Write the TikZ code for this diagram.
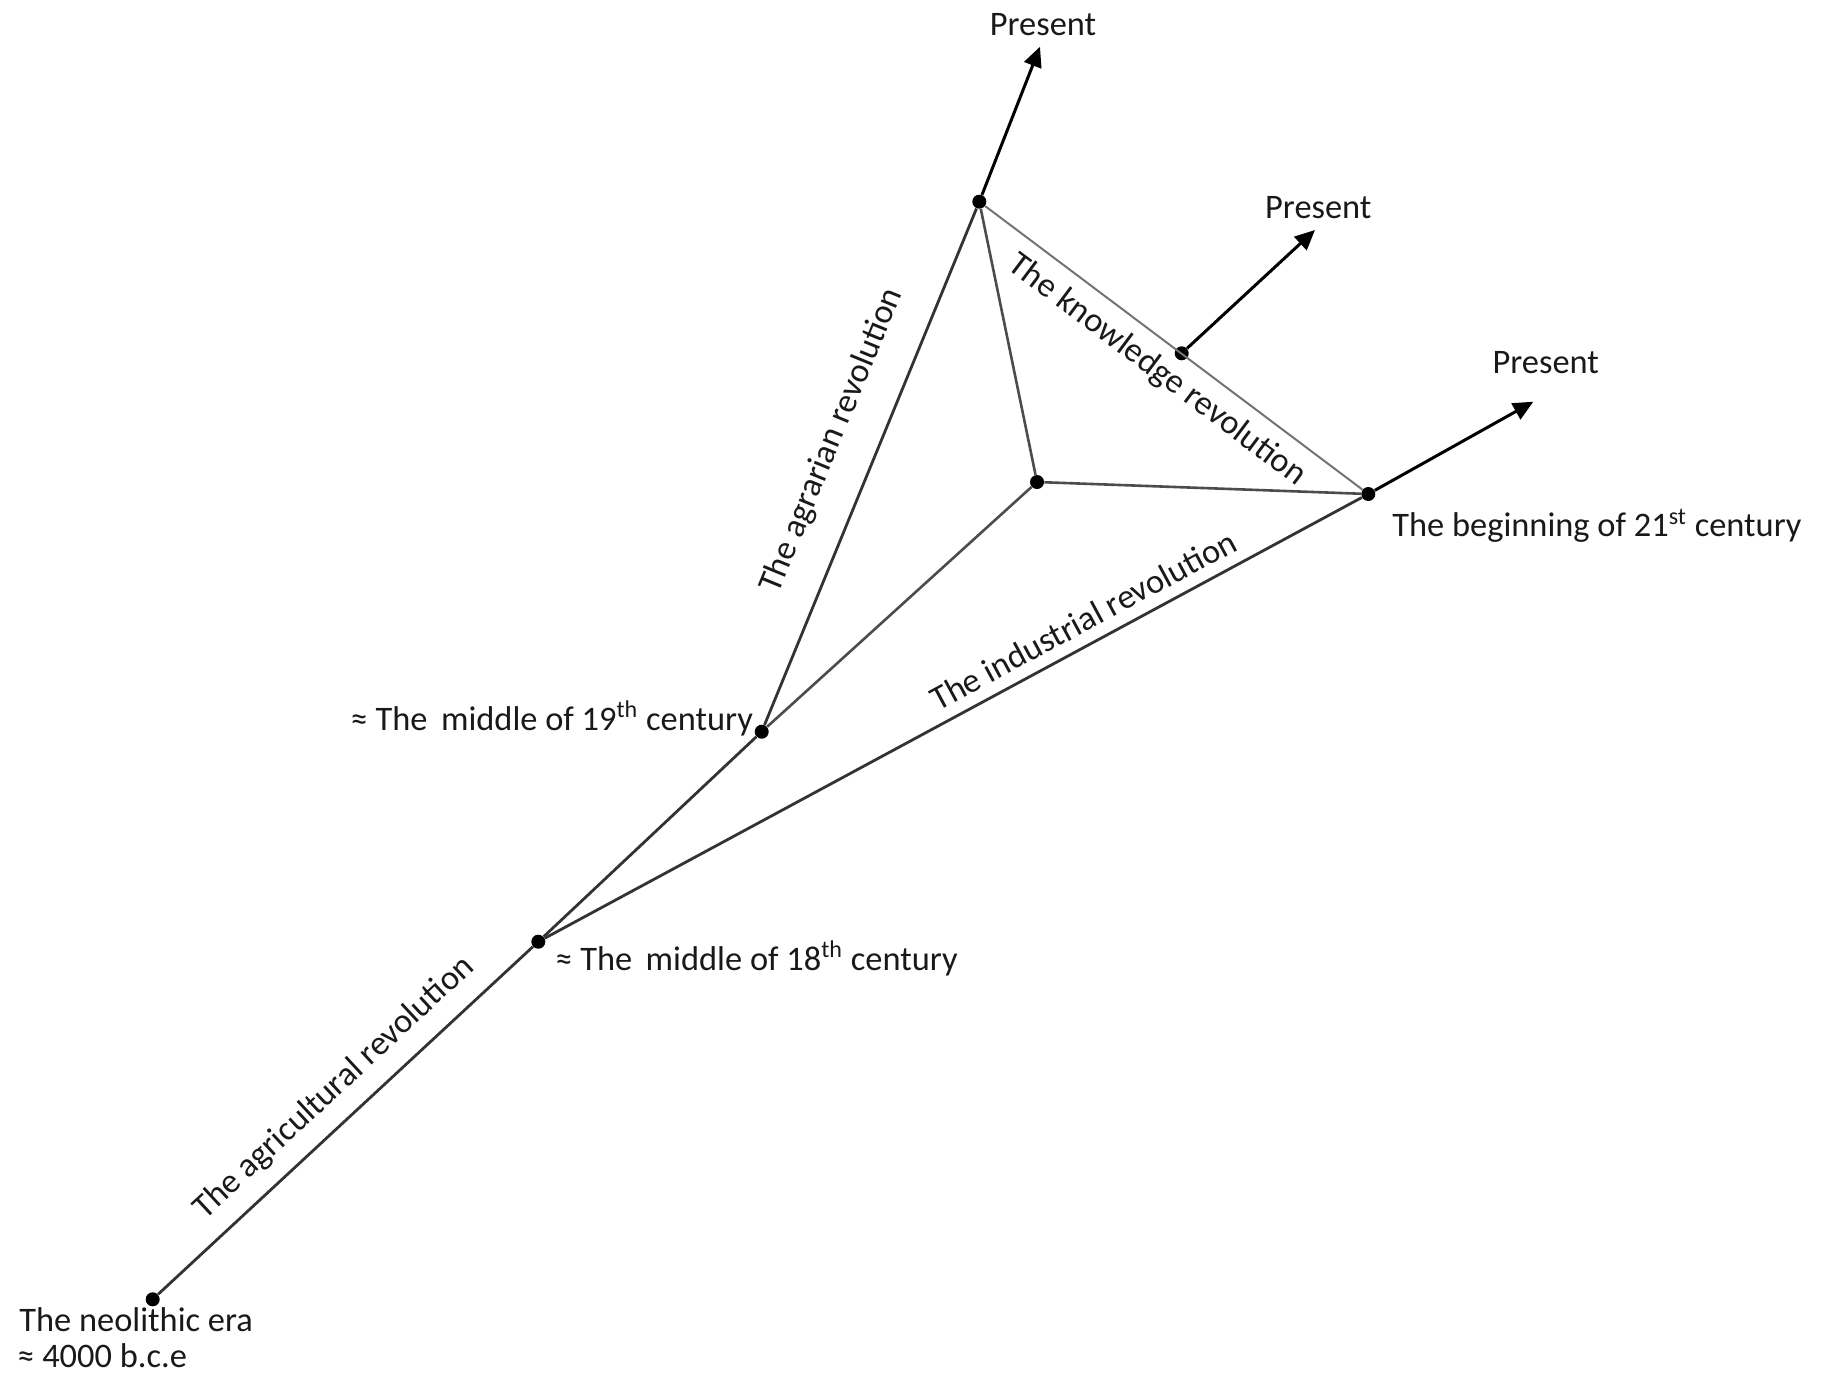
\documentclass[tikz,border=0pt]{standalone}
\usepackage{fontspec}
\setmainfont{Carlito}
\usetikzlibrary{arrows.meta}
\begin{document}
\begin{tikzpicture}[x=0.5pt,y=-0.5pt,
      every node/.style={font=\fontsize{17.2}{20}\selectfont, inner sep=0pt, text=black!90},
      dot/.style={circle, fill=black, minimum size=7pt},
      mainline/.style={line width=1.4pt, black!80},
      midline/.style={line width=1.3pt, black!70},
      thinline/.style={line width=1pt, black!55},
      present/.style={line width=1.5pt, -{Triangle[length=10pt,width=9pt]}}]
   \useasboundingbox (0,0) rectangle (1825,1377);

   % points of the time line
   \node[dot] (neo) at (152.7,1299.3) {};
   \node[dot] (m18) at (538.3,941.7) {};
   \node[dot] (m19) at (761.7,731.7) {};
   \node[dot] (top) at (979.3,201.7) {};
   \node[dot] (ctr) at (1037,482) {};
   \node[dot] (knw) at (1181.7,353.3) {};
   \node[dot] (c21) at (1368.3,494) {};

   \coordinate (endtop) at (1040,46.7);
   \coordinate (endknw) at (1315,230);
   \coordinate (end21) at (1533.3,401.7);

   % branches
   \draw[mainline] (neo) -- node[sloped, above=7.6pt, pos=.527] {The agricultural revolution} (m18);
   \draw[mainline] (m18) -- (m19);
   \draw[mainline] (m19) -- node[sloped, above=14.6pt, pos=.517] {The agrarian revolution} (top);
   \draw[mainline] (m18) -- node[sloped, above=5.5pt, pos=.673] {The industrial revolution} (c21);
   \draw[midline] (m19) -- (ctr);
   \draw[midline] (top) -- (ctr);
   \draw[midline] (ctr) -- (c21);
   \draw[thinline] (top) -- node[sloped, below=6.1pt, pos=.5] {The knowledge revolution} (c21);

   \draw[present] (top) -- (endtop);
   \draw[present] (knw) -- (endknw);
   \draw[present] (c21) -- (end21);

   % labels
   \node[anchor=base] (ptop) at (1043,35) {Present};
   \node[anchor=base] (pknw) at (1318.3,218.3) {Present};
   \node[anchor=base] (p21) at (1545.7,373.3) {Present};
   \node[anchor=base west] (l21) at (1392,536.7) {The beginning of 21\textsuperscript{st} century};
   \node[anchor=base east] (l19) at (753.3,730) {≈ The \,middle of 19\textsuperscript{th} century};
   \node[anchor=base west] (l18) at (555,970) {≈ The \,middle of 18\textsuperscript{th} century};
   \node[anchor=base west] (lneo) at (19,1331.7) {The neolithic era};
   \node[anchor=base west] (lbce) at (17,1367) {≈ 4000 b.c.e};
\end{tikzpicture}
\end{document}
